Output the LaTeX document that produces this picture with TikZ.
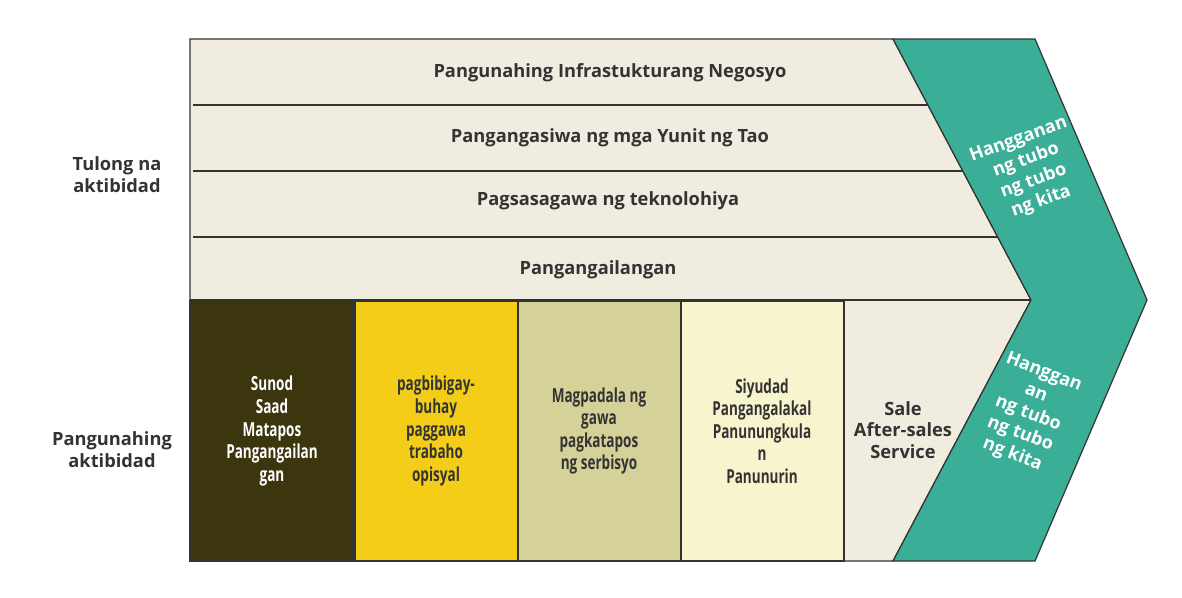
\documentclass[tikz,border=0pt]{standalone}
\usepackage{fontspec}
\setmainfont{Open Sans}
\newfontfamily\narrowfont{Open Sans}[FakeStretch=0.7]
\definecolor{beige}{HTML}{F0ECDF}
\definecolor{darkolive}{HTML}{3B360E}
\definecolor{goldyellow}{HTML}{F4CD19}
\definecolor{khaki}{HTML}{D4D298}
\definecolor{paleyellow}{HTML}{F8F4CE}
\definecolor{margingreen}{HTML}{3BAE98}
\definecolor{inkgray}{HTML}{333333}
\begin{document}
\begin{tikzpicture}[x=0.75pt,y=-0.75pt,line width=0.9pt,
    lbl/.style={font=\bfseries\fontsize{13.7}{16.3}\selectfont,text=inkgray,align=center},
    boxlbl/.style={font=\narrowfont\bfseries\fontsize{14.5}{16.9}\selectfont,text=inkgray,align=center},
    marginlbl/.style={font=\bfseries\fontsize{13.5}{16.5}\selectfont,text=white,align=center}]
\useasboundingbox (0,0) rectangle (1182,597);
% support rows and outline
\draw[inkgray,fill=beige] (190,39) -- (893,39) -- (1031,300) -- (893,561) -- (190,561) -- cycle;
\foreach \y/\xe in {105/928, 171/963, 237/998}
    \draw[inkgray] (193,\y) -- (\xe,\y);
\draw[inkgray] (190,300) -- (1031,300);
% primary activity boxes
\foreach \x/\c in {190/darkolive, 355/goldyellow, 518/khaki, 681/paleyellow}
    \draw[inkgray,fill=\c] (\x,301) rectangle ++(163,260);
% margin chevron
\draw[inkgray,fill=margingreen] (893,39) -- (1035,39) -- (1147,300) -- (1035,561) -- (893,561) -- (1031,300) -- cycle;
\node[lbl] (infra) at (610,73) {Pangunahing Infrastukturang Negosyo};
\node[lbl] (hr) at (610,138) {Pangangasiwa ng mga Yunit ng Tao};
\node[lbl] (tech) at (608,201) {Pagsasagawa ng teknolohiya};
\node[lbl] (proc) at (598,270) {Pangangailangan};
\node[boxlbl,text=white] (inbound) at (272,431) {Sunod\\Saad\\Matapos\\Pangangailan\\gan};
\node[boxlbl] (ops) at (436,431) {pagbibigay-\\buhay\\paggawa\\trabaho\\opisyal};
\node[boxlbl] (outbound) at (599,431) {Magpadala ng\\gawa\\pagkatapos\\ng serbisyo};
\node[boxlbl] (market) at (762,431) {Siyudad\\Pangangalakal\\Panunungkula\\n\\Panunurin};
\node[lbl] (service) at (903,430) {Sale\\After-sales\\Service};
\node[marginlbl,rotate=20] (upmargin) at (1030,171) {Hangganan\\ng tubo\\ng tubo\\ng kita};
\node[marginlbl,rotate=-21] (lowmargin) at (1028,414) {Hanggan\\an\\ng tubo\\ng tubo\\ng kita};
\node[lbl] (support) at (117,175) {Tulong na\\aktibidad};
\node[lbl] (primary) at (112,450) {Pangunahing\\aktibidad};
\end{tikzpicture}
\end{document}
